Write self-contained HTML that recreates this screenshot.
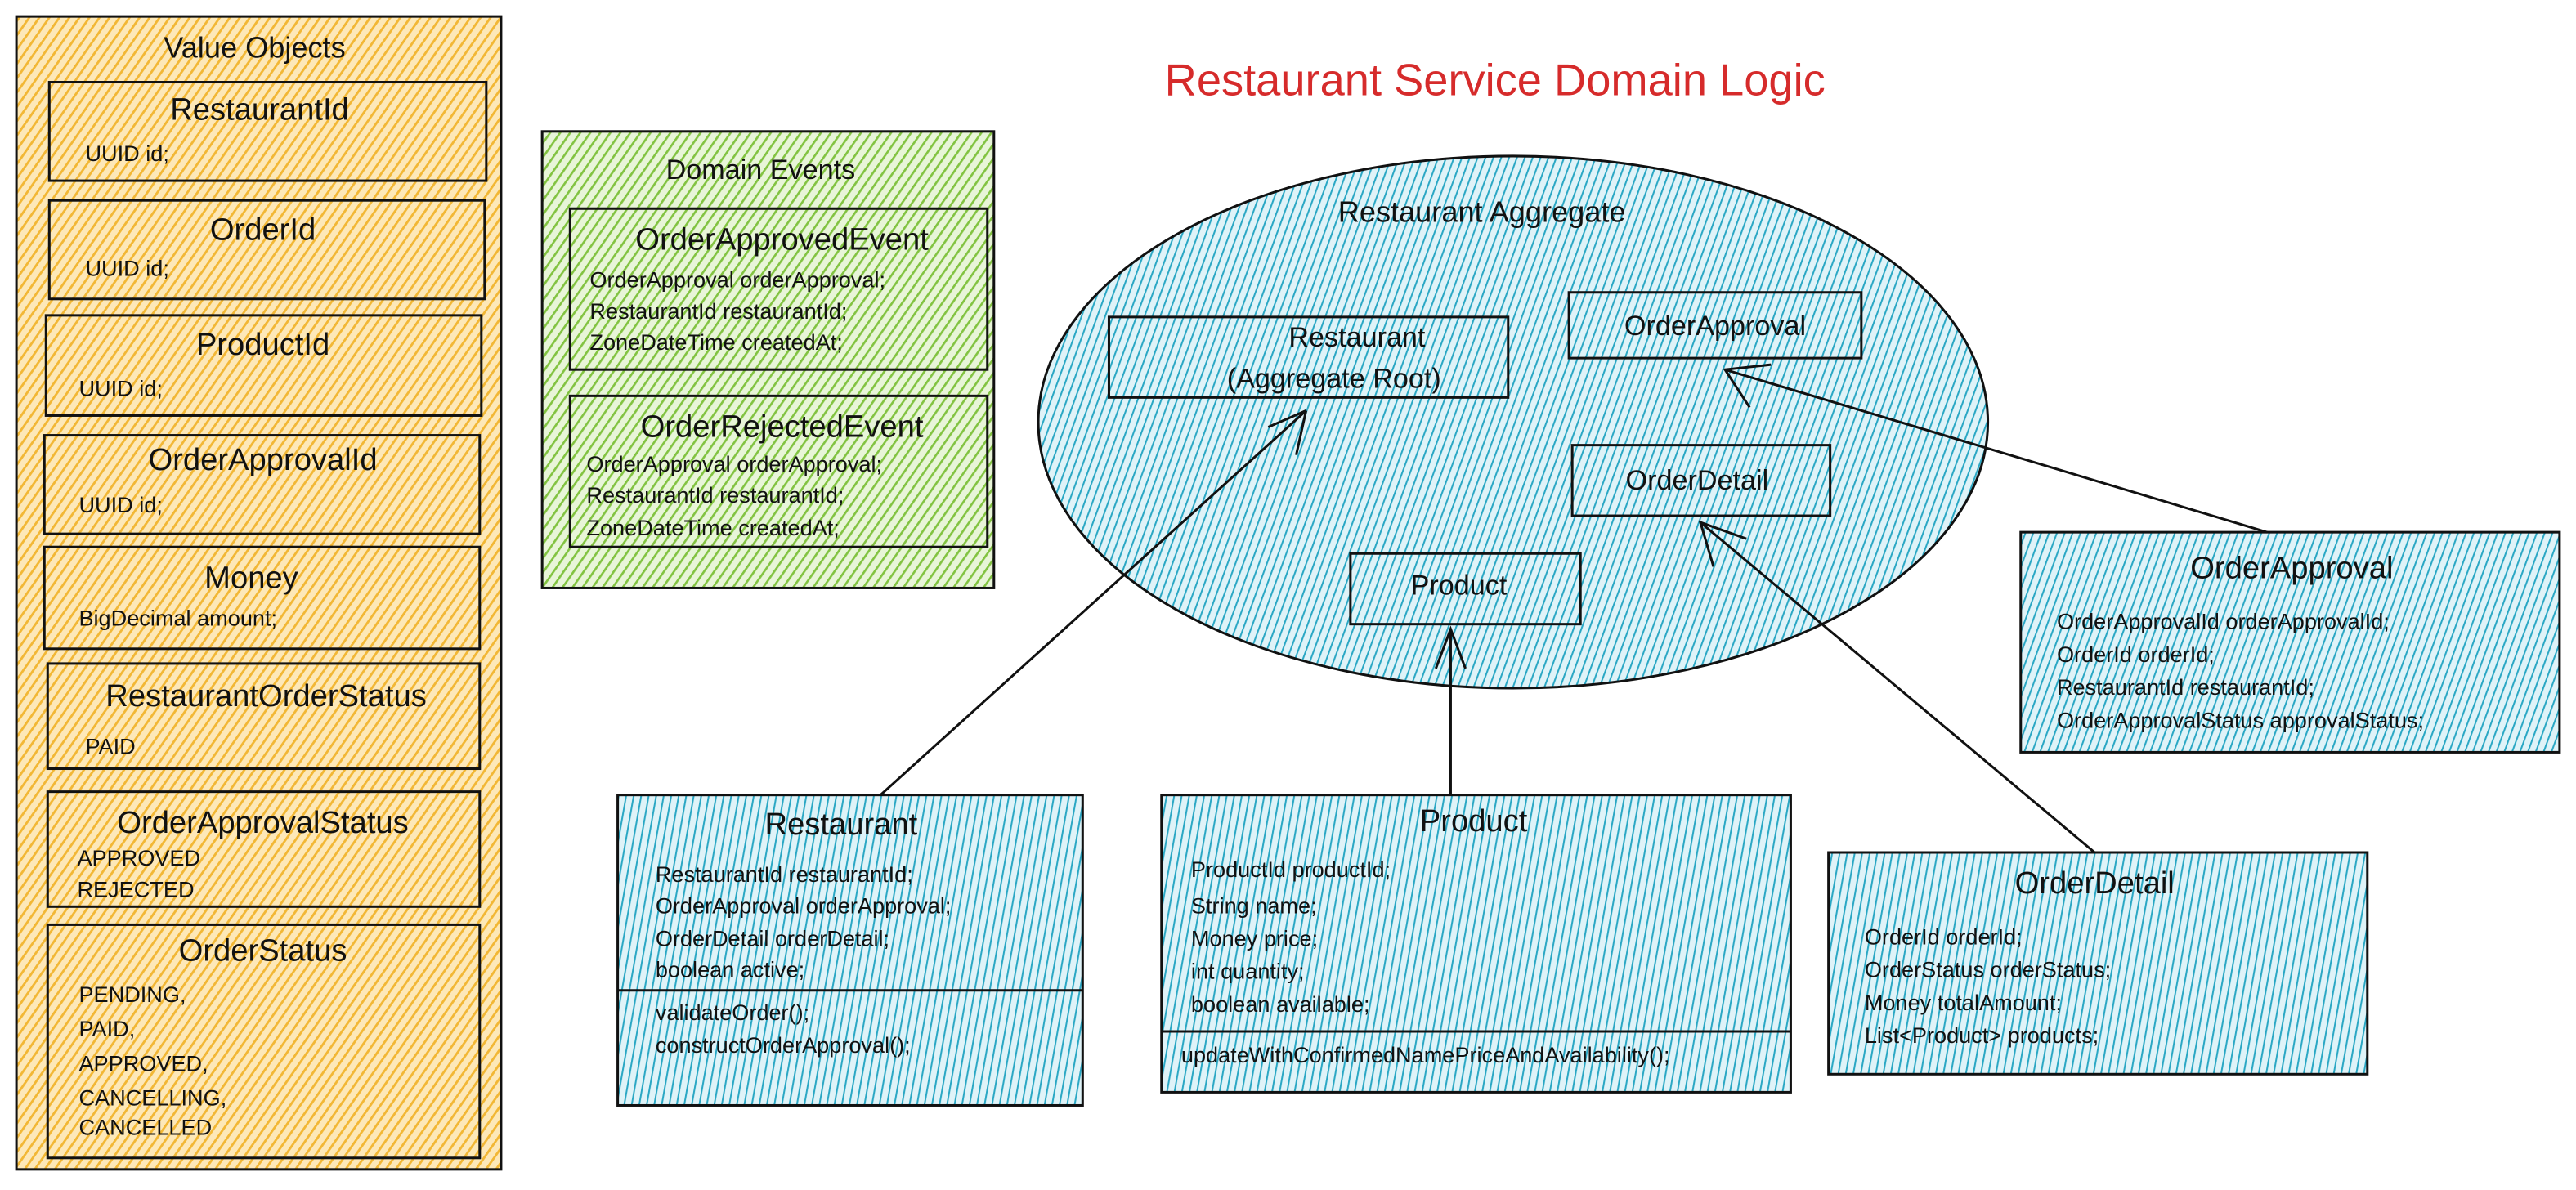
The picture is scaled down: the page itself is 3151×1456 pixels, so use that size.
<!DOCTYPE html>
<html><head><meta charset="utf-8"><style>
html,body{margin:0;padding:0;background:#fff;}
svg{display:block}
text{font-family:"Liberation Sans Narrow","Liberation Sans",sans-serif;fill:#111}
.t{font-size:19px;text-anchor:middle}
.f{font-size:13.5px}
</style></head><body>
<svg width="3151" height="1456" viewBox="0 0 1568 724.5" xmlns="http://www.w3.org/2000/svg">
<defs>
<pattern id="po" width="5" height="5" patternUnits="userSpaceOnUse" patternTransform="rotate(35)">
<rect width="5" height="5" fill="#fde8b8"/><rect width="1.4" height="5" fill="#f2b735"/></pattern>
<pattern id="pg" width="5" height="5" patternUnits="userSpaceOnUse" patternTransform="rotate(35)">
<rect width="5" height="5" fill="#e8f5d8"/><rect width="1.3" height="5" fill="#82c341"/></pattern>
<pattern id="pb" width="4.5" height="4.5" patternUnits="userSpaceOnUse" patternTransform="rotate(20)">
<rect width="4.5" height="4.5" fill="#dff3f8"/><rect width="1" height="4.5" fill="#2aa7c4"/></pattern>
<pattern id="pb2" width="4.5" height="4.5" patternUnits="userSpaceOnUse" patternTransform="rotate(10)">
<rect width="4.5" height="4.5" fill="#dff3f8"/><rect width="1" height="4.5" fill="#2aa7c4"/></pattern>
</defs>
<g stroke="#111" stroke-width="1.5">
<rect x="10" y="10" width="295" height="702" fill="url(#po)"/>
<rect x="30" y="50" width="266" height="60" fill="url(#po)"/>
<rect x="30" y="122" width="265" height="60" fill="url(#po)"/>
<rect x="28" y="192" width="265" height="61" fill="url(#po)"/>
<rect x="27" y="265" width="265" height="60" fill="url(#po)"/>
<rect x="27" y="333" width="265" height="62" fill="url(#po)"/>
<rect x="29" y="404" width="263" height="64" fill="url(#po)"/>
<rect x="29" y="482" width="263" height="70" fill="url(#po)"/>
<rect x="29" y="563" width="263" height="142" fill="url(#po)"/>
<rect x="330" y="80" width="275" height="278" fill="url(#pg)"/>
<rect x="347" y="127" width="254" height="98" fill="url(#pg)"/>
<rect x="347" y="241" width="254" height="92" fill="url(#pg)"/>
<ellipse cx="921" cy="257" rx="289" ry="162" fill="url(#pb)"/>
<rect x="675" y="193" width="243" height="49" fill="url(#pb)"/>
<rect x="955" y="178" width="178" height="40" fill="url(#pb)"/>
<rect x="957" y="271" width="157" height="43" fill="url(#pb)"/>
<rect x="822" y="337" width="140" height="43" fill="url(#pb)"/>
<rect x="1230" y="324" width="328" height="134" fill="url(#pb)"/>
<rect x="376" y="484" width="283" height="189" fill="url(#pb2)"/>
<line x1="376" y1="603" x2="659" y2="603"/>
<rect x="707" y="484" width="383" height="181" fill="url(#pb2)"/>
<line x1="707" y1="628" x2="1090" y2="628"/>
<rect x="1113" y="519" width="328" height="135" fill="url(#pb2)"/>
<g fill="none">
<path d="M536 484 L795 250 M772 260 L795 250 M789 277 L795 250"/>
<path d="M883 484 L883 383 M874 407 L883 383 L892 407"/>
<path d="M1275 519 L1035 318 M1043 345 L1035 318 L1063 328"/>
<path d="M1380 324 L1050 225 M1065 248 L1050 225 L1078 222"/>
</g>
</g>
<text x="155" y="35" class="t" style="font-size:18px">Value Objects</text>
<text x="158" y="73" class="t">RestaurantId</text><text x="52" y="98" class="f">UUID id;</text>
<text x="160" y="146" class="t">OrderId</text><text x="52" y="168" class="f">UUID id;</text>
<text x="160" y="216" class="t">ProductId</text><text x="48" y="241" class="f">UUID id;</text>
<text x="160" y="286" class="t">OrderApprovalId</text><text x="48" y="312" class="f">UUID id;</text>
<text x="153" y="358" class="t">Money</text><text x="48" y="381" class="f">BigDecimal amount;</text>
<text x="162" y="430" class="t">RestaurantOrderStatus</text><text x="52" y="459" class="f">PAID</text>
<text x="160" y="507" class="t">OrderApprovalStatus</text>
<text x="47" y="527" class="f">APPROVED</text><text x="47" y="546" class="f">REJECTED</text>
<text x="160" y="585" class="t">OrderStatus</text>
<text x="48" y="610" class="f">PENDING,</text><text x="48" y="631" class="f">PAID,</text><text x="48" y="652" class="f">APPROVED,</text><text x="48" y="673" class="f">CANCELLING,</text><text x="48" y="691" class="f">CANCELLED</text>
<text x="463" y="109" class="t" style="font-size:17px">Domain Events</text>
<text x="476" y="152" class="t">OrderApprovedEvent</text>
<text x="359" y="175" class="f">OrderApproval orderApproval;</text>
<text x="359" y="194" class="f">RestaurantId restaurantId;</text>
<text x="359" y="213" class="f">ZoneDateTime createdAt;</text>
<text x="476" y="266" class="t">OrderRejectedEvent</text>
<text x="357" y="287" class="f">OrderApproval orderApproval;</text>
<text x="357" y="306" class="f">RestaurantId restaurantId;</text>
<text x="357" y="326" class="f">ZoneDateTime createdAt;</text>
<text x="910" y="58" class="t" style="font-size:27px;fill:#d62b2b">Restaurant Service Domain Logic</text>
<text x="902" y="135" class="t" style="font-size:18px">Restaurant Aggregate</text>
<text x="826" y="211" class="t" style="font-size:17px">Restaurant</text>
<text x="812" y="236" class="t" style="font-size:17px">(Aggregate Root)</text>
<text x="1044" y="204" class="t" style="font-size:17px">OrderApproval</text>
<text x="1033" y="298" class="t" style="font-size:17px">OrderDetail</text>
<text x="888" y="362" class="t" style="font-size:17px">Product</text>
<text x="1395" y="352" class="t">OrderApproval</text>
<text x="1252" y="383" class="f">OrderApprovalId orderApprovalId;</text>
<text x="1252" y="403" class="f">OrderId orderId;</text>
<text x="1252" y="423" class="f">RestaurantId restaurantId;</text>
<text x="1252" y="443" class="f">OrderApprovalStatus approvalStatus;</text>
<text x="512" y="508" class="t">Restaurant</text>
<text x="399" y="537" class="f">RestaurantId restaurantId;</text>
<text x="399" y="556" class="f">OrderApproval orderApproval;</text>
<text x="399" y="576" class="f">OrderDetail orderDetail;</text>
<text x="399" y="595" class="f">boolean active;</text>
<text x="399" y="621" class="f">validateOrder();</text>
<text x="399" y="641" class="f">constructOrderApproval();</text>
<text x="897" y="506" class="t">Product</text>
<text x="725" y="534" class="f">ProductId productId;</text>
<text x="725" y="556" class="f">String name;</text>
<text x="725" y="576" class="f">Money price;</text>
<text x="725" y="596" class="f">int quantity;</text>
<text x="725" y="616" class="f">boolean available;</text>
<text x="719" y="647" class="f">updateWithConfirmedNamePriceAndAvailability();</text>
<text x="1275" y="544" class="t">OrderDetail</text>
<text x="1135" y="575" class="f">OrderId orderId;</text>
<text x="1135" y="595" class="f">OrderStatus orderStatus;</text>
<text x="1135" y="615" class="f">Money totalAmount;</text>
<text x="1135" y="635" class="f">List&lt;Product&gt; products;</text>
</svg>
</body></html>
